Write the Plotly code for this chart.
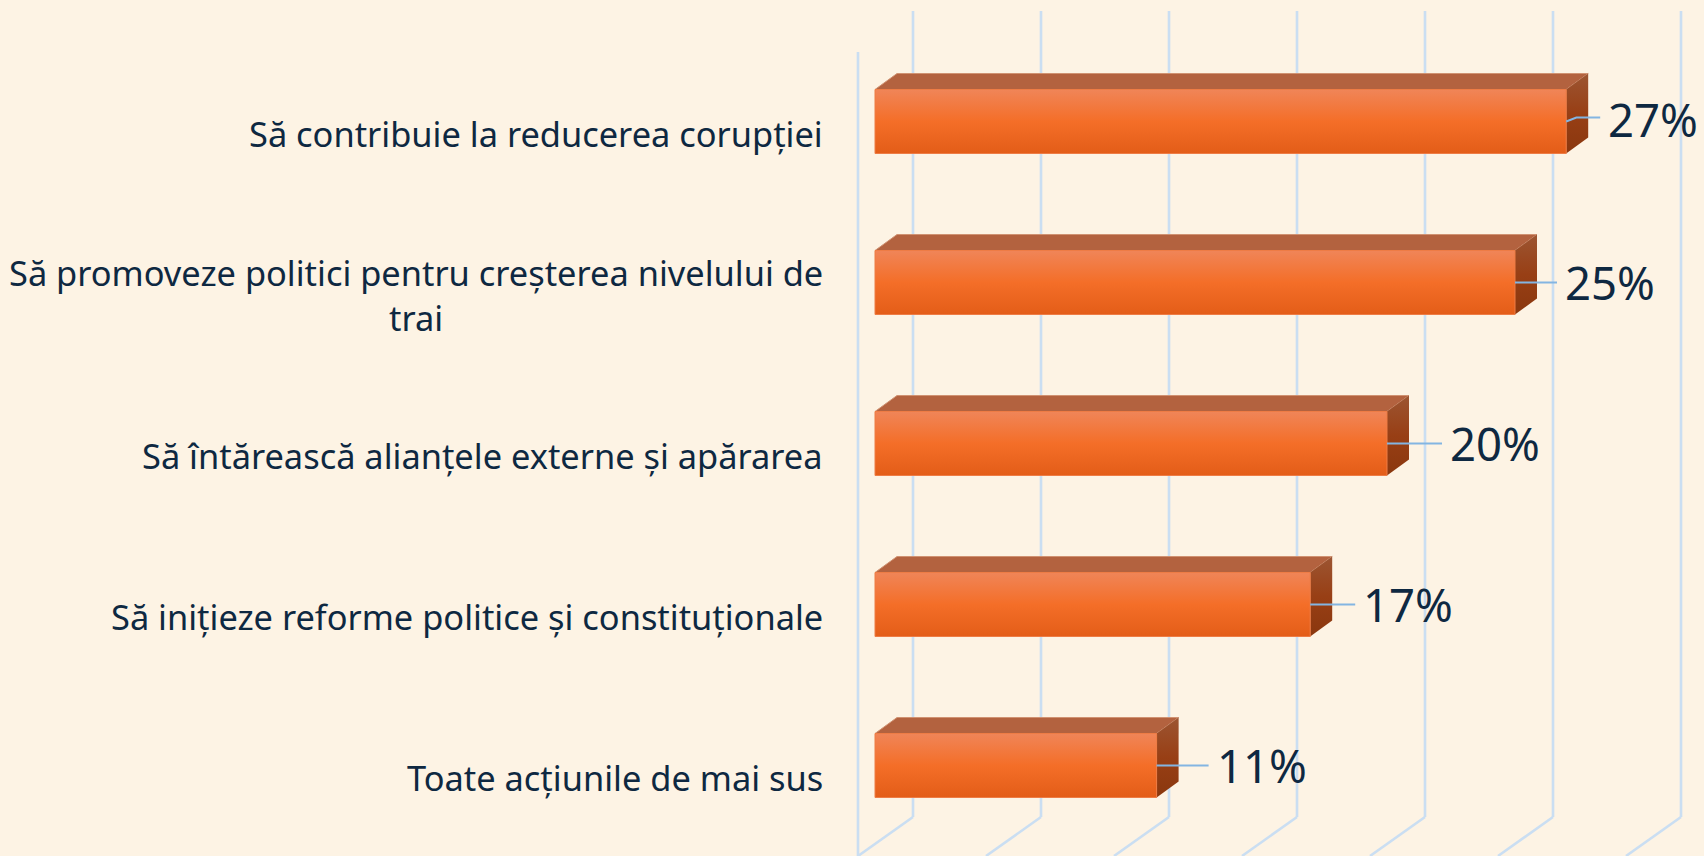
import plotly.graph_objects as go

categories = [
    "Să contribuie la reducerea corupției",
    "Să promoveze politici pentru creșterea nivelului de<br>trai",
    "Să întărească alianțele externe și apărarea",
    "Să inițieze reforme politice și constituționale",
    "Toate acțiunile de mai sus",
]
values = [27, 25, 20, 17, 11]
grid_ticks = [0, 5, 10, 15, 20, 25, 30]
leader_len_px = [34, 42, 55, 45, 52]
leader_rise_px = [4, 0, 0, 0, 0]

W, H = 1704, 856
PX_PER_PCT = 25.6
ZERO_PX = 875
ROW_PX = 161
FIRST_ROW_PX = 121.5
BAR_PX = 64
DEPTH_X, DEPTH_Y = 22, 16

dx = lambda px: px / PX_PER_PCT
dy = lambda px: px / ROW_PX
rows = list(range(len(values)))

BG = "#FDF3E4"
GRID = "#CADEF2"
TEXT = "#0E2841"
LEADER = "#83B5E2"
FONT = "Noto Sans"

fig = go.Figure()

# flat base of each bar, through the bar trace
fig.add_trace(go.Bar(x=values, y=rows, orientation="h", width=dy(BAR_PX),
                     marker=dict(color="#F46E28", line=dict(width=0)),
                     showlegend=False, hoverinfo="x+y"))

half = dy(BAR_PX) / 2
for r, v in zip(rows, values):
    # top face
    fig.add_trace(go.Scatter(
        x=[0, v, v + dx(DEPTH_X), dx(DEPTH_X), 0],
        y=[r - half, r - half, r - half - dy(DEPTH_Y), r - half - dy(DEPTH_Y), r - half],
        mode="lines", fill="toself", fillcolor="#B3623F",
        line=dict(color="#D09272", width=1), showlegend=False, hoverinfo="skip"))
    # side face
    fig.add_trace(go.Scatter(
        x=[v, v + dx(DEPTH_X), v + dx(DEPTH_X), v, v],
        y=[r - half, r - half - dy(DEPTH_Y), r + half - dy(DEPTH_Y), r + half, r - half],
        mode="lines", fill="toself",
        fillgradient=dict(type="vertical",
                          colorscale=[[0, "#8A370E"], [0.5, "#983F15"], [1, "#9C5532"]]),
        line=dict(color="rgba(0,0,0,0)", width=0), showlegend=False, hoverinfo="skip"))
    # front face gradient
    fig.add_trace(go.Scatter(
        x=[0, v, v, 0, 0],
        y=[r - half, r - half, r + half, r + half, r - half],
        mode="lines", fill="toself",
        fillgradient=dict(type="vertical",
                          colorscale=[[0, "#E35D18"], [0.5, "#F46E28"], [1, "#F08558"]]),
        line=dict(color="#EE7C45", width=1), showlegend=False, hoverinfo="skip"))

# leader lines
for r, v, l, rise in zip(rows, values, leader_len_px, leader_rise_px):
    fig.add_trace(go.Scatter(x=[v, v + dx(l * 0.3), v + dx(l)],
                             y=[r, r - dy(rise), r - dy(rise)],
                             mode="lines", line=dict(color=LEADER, width=2),
                             showlegend=False, hoverinfo="skip"))

# grid drawn behind everything
floor_back = (817 - FIRST_ROW_PX) / ROW_PX
wall_top = (11 - FIRST_ROW_PX) / ROW_PX
floor_front = (856 - FIRST_ROW_PX) / ROW_PX
back = dx(913 - ZERO_PX)
front = dx(858 - ZERO_PX)
shapes = []
line = dict(color=GRID, width=2.6)
for t in grid_ticks:
    shapes.append(dict(type="line", layer="below", xref="x", yref="y", line=line,
                       x0=t + back, x1=t + back, y0=wall_top, y1=floor_back))
    shapes.append(dict(type="line", layer="below", xref="x", yref="y", line=line,
                       x0=t + back, x1=t + front, y0=floor_back, y1=floor_front))
shapes.append(dict(type="line", layer="below", xref="x", yref="y", line=line,
                   x0=front, x1=front, y0=(52 - FIRST_ROW_PX) / ROW_PX, y1=floor_front))

annotations = []
for r, c in zip(rows, categories):
    annotations.append(dict(x=dx(825 - ZERO_PX), y=r + dy(12), xref="x", yref="y", text=c,
                            xanchor="right", yanchor="middle", align="center", showarrow=False,
                            font=dict(family=FONT, size=34.4, color=TEXT)))
for r, v, l, rise in zip(rows, values, leader_len_px, leader_rise_px):
    annotations.append(dict(x=v + dx(l + 9), y=r - dy(rise - 1 if rise else 1), xref="x", yref="y", text=f"{v}%",
                            xanchor="left", yanchor="middle", showarrow=False,
                            xshift=-3, font=dict(family=FONT, size=45.5, color=TEXT)))

fig.update_layout(
    width=W, height=H, margin=dict(l=0, r=0, t=0, b=0),
    paper_bgcolor=BG, plot_bgcolor=BG, showlegend=False, barmode="overlay",
    shapes=shapes, annotations=annotations,
    xaxis=dict(range=[-ZERO_PX / PX_PER_PCT, (W - ZERO_PX) / PX_PER_PCT],
               showgrid=False, zeroline=False, showticklabels=False, ticks="", fixedrange=True),
    yaxis=dict(range=[(H - FIRST_ROW_PX) / ROW_PX, -FIRST_ROW_PX / ROW_PX],
               showgrid=False, zeroline=False, showticklabels=False, ticks="", fixedrange=True),
)

fig.write_html("out.html", config={"displayModeBar": False},
               post_script="document.body.style.margin='0';document.body.style.overflow='hidden';document.body.style.background='%s';" % BG)
